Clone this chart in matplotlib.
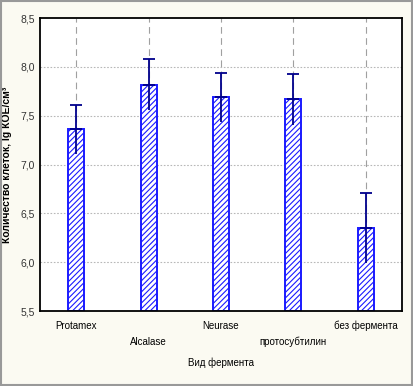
import matplotlib
matplotlib.use("Agg")
import matplotlib.pyplot as plt
import numpy as np

enzymes = ["Protamex", "Alcalase", "Neurase", "протосубтилин", "без фермента"]
means = [7.36, 7.82, 7.69, 7.67, 6.35]
errors = [0.25, 0.26, 0.25, 0.26, 0.36]
yticks = [5.5, 6.0, 6.5, 7.0, 7.5, 8.0, 8.5]

plt.rcParams['font.family'] = ['Liberation Sans', 'DejaVu Sans']
plt.rcParams['hatch.color'] = '#1a1aff'
plt.rcParams['hatch.linewidth'] = 0.8

fig = plt.figure(figsize=(4.13, 3.86), dpi=100, facecolor='#fbfaf2')
ax = fig.add_axes([0.097, 0.194, 0.876, 0.759])
ax.set_facecolor('white')

xs = np.arange(len(enzymes))

# dashed verticals behind each bar
for x in xs:
    ax.axvline(x, color='#a0a0a0', linestyle=(0, (6, 4)), linewidth=0.8, zorder=0)
for y in yticks[1:-1]:
    ax.axhline(y, color='#b8b8b8', linestyle=(0, (1.5, 1.5)), linewidth=0.8, zorder=0)

ax.bar(xs, np.array(means) - 5.5, bottom=5.5, width=0.22, facecolor='white',
       edgecolor='#1a1aff', hatch='//////', linewidth=1.4, zorder=2)

zeros = np.zeros(len(means))
# upper whisker with cap, lower whisker without
ax.errorbar(xs, means, yerr=[zeros, errors], fmt='none', ecolor='#00008b',
            elinewidth=1.3, capsize=4, capthick=1.3, zorder=3)
ax.errorbar(xs, means, yerr=[errors, zeros], fmt='none', ecolor='#00008b',
            elinewidth=1.3, capsize=0, zorder=3)

ax.set_xlim(-0.5, 4.5)
ax.set_ylim(5.5, 8.5)
ax.set_yticks(yticks)
ax.set_yticklabels([f"{v:.1f}".replace('.', ',') for v in yticks],
                   fontsize=7.5, color='#333333')
ax.set_xticks(xs)
ax.set_xticklabels(enzymes, fontsize=7)
for i, lab in enumerate(ax.get_xticklabels()):
    if i in (1, 3):
        lab.set_y(-0.055)
ax.tick_params(axis='both', length=0, pad=4)
ax.tick_params(axis='x', pad=7)
for s in ax.spines.values():
    s.set_linewidth(1.3)
    s.set_color('black')

ax.set_xlabel("Вид фермента", fontsize=7)
ax.xaxis.set_label_coords(0.5, -0.16)
ax.set_ylabel("Количество клеток, lg КОЕ/см³", fontsize=7.5, fontweight='bold', labelpad=6)

# outer border
fig.patches.append(plt.Rectangle((0.003, 0.003), 0.994, 0.994, transform=fig.transFigure,
                                 fill=False, edgecolor='#999999', linewidth=1.5))

fig.savefig("out.png", dpi=100, facecolor=fig.get_facecolor())
